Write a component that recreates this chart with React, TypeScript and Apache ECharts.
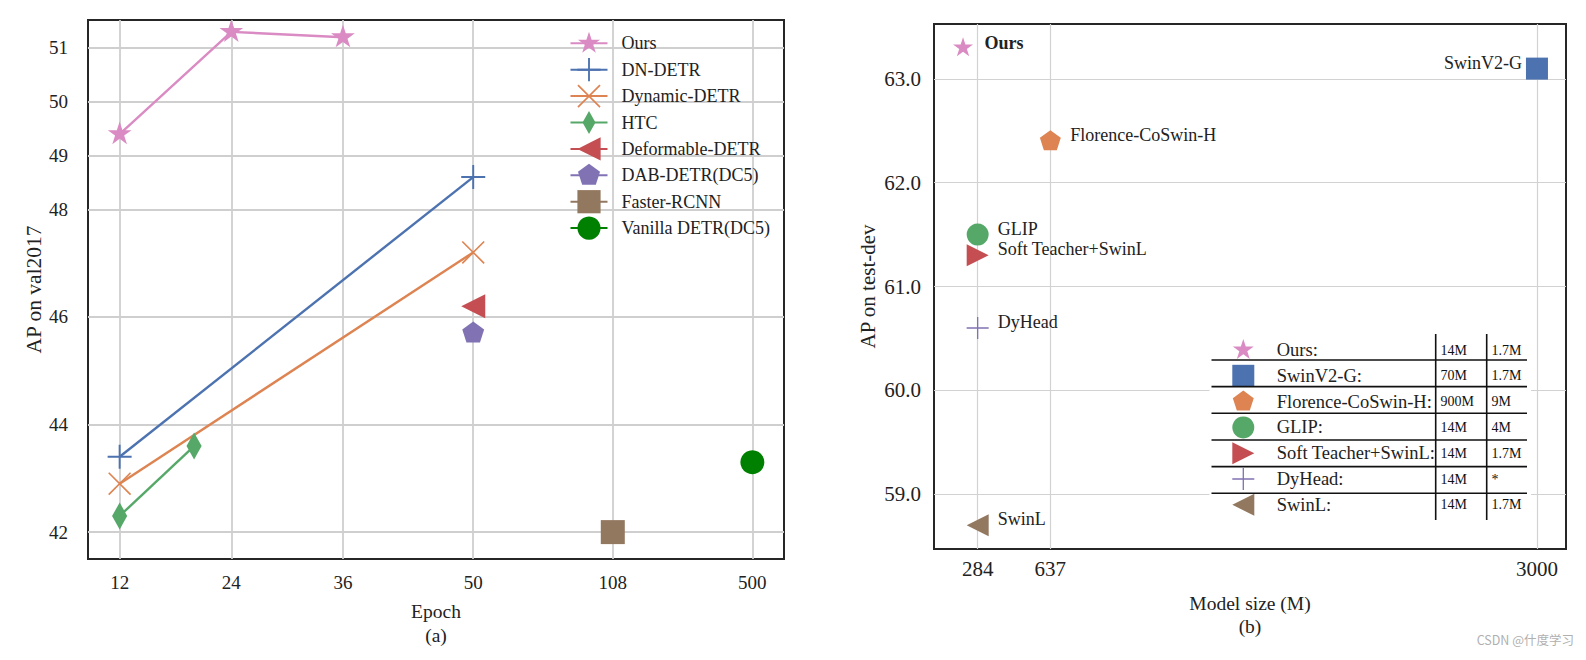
import React, { useEffect, useRef } from "react";
import * as echarts from "echarts";

// ---------- data: panel (a) ----------
const epochTickValues = [12, 24, 36, 50, 108, 500];
const epochTickPos = [12, 24, 36, 50, 65, 80]; // broken axis: positions used for 108 and 500
const apTicksA = [42, 44, 46, 48, 49, 50, 51];

const leftNames = [
  "Ours",
  "DN-DETR",
  "Dynamic-DETR",
  "HTC",
  "Deformable-DETR",
  "DAB-DETR(DC5)",
  "Faster-RCNN",
  "Vanilla DETR(DC5)",
];
const oursEpochs = [12, 24, 36];
const oursAP = [49.4, 51.3, 51.2];
const dnEpochs = [12, 50];
const dnAP = [43.4, 48.6];
const dynEpochs = [12, 50];
const dynAP = [42.9, 47.2];
const htcEpochs = [12, 20];
const htcAP = [42.3, 43.6];
const deformEpochs = [50];
const deformAP = [46.2];
const dabEpochs = [50];
const dabAP = [45.7];
const frcnnEpochs = [108];
const frcnnAP = [42.0];
const vanillaEpochs = [500];
const vanillaAP = [43.3];

// ---------- data: panel (b) ----------
const rightNames = [
  "Ours",
  "SwinV2-G",
  "Florence-CoSwin-H",
  "GLIP",
  "Soft Teacher+SwinL",
  "DyHead",
  "SwinL",
];
const rightModelSize = [213, 3000, 637, 284, 284, 284, 284];
const rightAP = [63.3, 63.1, 62.4, 61.5, 61.3, 60.6, 58.7];
const sizeTicks = [284, 637, 3000];
const apTicksB = [59, 60, 61, 62, 63];
const tableCol1 = ["14M", "70M", "900M", "14M", "14M", "14M", "14M"];
const tableCol2 = ["1.7M", "1.7M", "9M", "4M", "1.7M", "*", "1.7M"];

// ---------- styles ----------
const FONT = '"Liberation Serif", "Times New Roman", serif';
const TXT = "#222222";
const C = {
  pink: "#DA8BC3",
  blue: "#4C72B0",
  orange: "#DD8452",
  green: "#55A868",
  red: "#C44E52",
  purple: "#8172B3",
  brown: "#937860",
  darkgreen: "#008000",
};

const STAR =
  "path://M0,0M100,100M50,0L61.23,34.55L97.55,34.55L68.17,55.9L79.39,90.45L50,69.1L20.61,90.45L31.83,55.9L2.45,34.55L38.77,34.55Z";
const PLUS_THICK = "path://M46,0H54V100H46Z M0,46H100V54H0Z";
const PLUS = "path://M47,0H53V100H47Z M0,47H100V53H0Z";
const XMARK = "path://M0,5L5,0L100,95L95,100Z M95,0L100,5L5,100L0,95Z";
const THIN_DIAMOND = "path://M0,0M100,100M50,0L78,50L50,100L22,50Z";
const LEFT_TRI = "path://M0,50L100,0L100,100Z";
const RIGHT_TRI = "path://M100,50L0,0L0,100Z";
const PENTAGON =
  "path://M0,0M100,100M50,0L97.55,34.55L79.39,90.45L20.61,90.45L2.45,34.55Z";
const SQUARE = "path://M0,0H100V100H0Z";

function epochPos(e: number) {
  const i = epochTickValues.indexOf(e);
  return i >= 0 ? epochTickPos[i] : e;
}
function pairs(xs: number[], ys: number[], f = (v: number) => v) {
  return xs.map((x, i) => [f(x), ys[i]]);
}

const leftSeriesDefs = [
  { name: leftNames[0], xs: oursEpochs, ys: oursAP, color: C.pink, symbol: STAR, size: 25 },
  { name: leftNames[1], xs: dnEpochs, ys: dnAP, color: C.blue, symbol: PLUS_THICK, size: 24 },
  { name: leftNames[2], xs: dynEpochs, ys: dynAP, color: C.orange, symbol: XMARK, size: 23 },
  { name: leftNames[3], xs: htcEpochs, ys: htcAP, color: C.green, symbol: THIN_DIAMOND, size: 27 },
  { name: leftNames[4], xs: deformEpochs, ys: deformAP, color: C.red, symbol: LEFT_TRI, size: 24 },
  { name: leftNames[5], xs: dabEpochs, ys: dabAP, color: C.purple, symbol: PENTAGON, size: 23 },
  { name: leftNames[6], xs: frcnnEpochs, ys: frcnnAP, color: C.brown, symbol: SQUARE, size: 24 },
  { name: leftNames[7], xs: vanillaEpochs, ys: vanillaAP, color: C.darkgreen, symbol: "circle", size: 24 },
];

const rightColors = [C.pink, C.blue, C.orange, C.green, C.red, C.purple, C.brown];
const rightSymbols = [STAR, SQUARE, PENTAGON, "circle", RIGHT_TRI, PLUS, LEFT_TRI];
const rightSymbolSizes = [21, 22, 22, 22, 22, 22, 22];
const rightLabelSide = ["right", "left", "right", "right", "right", "right", "right"];

// layout of the inset table in panel (b)
const TBL_ROW0 = 350;
const TBL_ROW_H = 25.8;
const TBL_LINE0 = 360;
const TBL_LINE_H = 26.66;
const TBL_X0 = 1211.5;
const TBL_X1 = 1527;
const TBL_VX = [1435.7, 1486.7];
const TBL_COLX = [1440.5, 1491.5];

export default function App() {
  const ref = useRef<HTMLDivElement>(null);

  useEffect(() => {
    if (!ref.current) return;
    const chart = echarts.init(ref.current, undefined, { renderer: "svg" });

    const gridLineA = { show: true, lineStyle: { color: "#cfcfcf", width: 1.8 } };
    const gridLineB = { show: true, lineStyle: { color: "#d2d2d2", width: 1.2 } };

    const leftSeries = leftSeriesDefs.map((d) => ({
      type: "line",
      name: d.name,
      xAxisIndex: 0,
      yAxisIndex: 0,
      data: pairs(d.xs, d.ys, epochPos),
      symbol: d.symbol,
      symbolSize: d.size,
      symbolKeepAspect: true,
      showSymbol: true,
      color: d.color,
      lineStyle: { color: d.color, width: 2.4 },
      itemStyle: { color: d.color, borderWidth: 0 },
      emphasis: { disabled: true },
      z: 3,
    }));

    const rightSeries = rightNames.map((n, i) => ({
      type: "scatter",
      name: n,
      xAxisIndex: 1,
      yAxisIndex: 1,
      data: [[rightModelSize[i], rightAP[i]]],
      symbol: rightSymbols[i],
      symbolSize: rightSymbolSizes[i],
      symbolKeepAspect: true,
      color: rightColors[i],
      itemStyle: { color: rightColors[i], borderWidth: 0, opacity: 1 },
      emphasis: { disabled: true },
      label: {
        show: true,
        formatter: n,
        position: rightLabelSide[i],
        distance: i === 0 ? 11 : i === 1 ? 4 : 9,
        offset: [0, i === 0 ? -5 : -6],
        fontFamily: FONT,
        fontSize: 18,
        fontWeight: i === 0 ? "bold" : "normal",
        color: TXT,
      },
      z: 3,
    }));

    const tableGraphics: any[] = [
      {
        type: "rect",
        shape: { x: TBL_X0 - 2, y: 329, width: TBL_X1 - TBL_X0 + 6, height: 193 },
        style: { fill: "#ffffff" },
        z: 1,
        silent: true,
      },
    ];
    for (let k = 0; k < 6; k++) {
      const y = TBL_LINE0 + k * TBL_LINE_H;
      tableGraphics.push({
        type: "line",
        shape: { x1: TBL_X0, y1: y, x2: TBL_X1, y2: y },
        style: { stroke: "#111111", lineWidth: 1.6 },
        z: 5,
        silent: true,
      });
    }
    TBL_VX.forEach((x) =>
      tableGraphics.push({
        type: "line",
        shape: { x1: x, y1: 334, x2: x, y2: 520 },
        style: { stroke: "#111111", lineWidth: 1.6 },
        z: 5,
        silent: true,
      })
    );
    [tableCol1, tableCol2].forEach((col, ci) =>
      col.forEach((t, i) =>
        tableGraphics.push({
          type: "text",
          x: TBL_COLX[ci],
          y: TBL_ROW0 + i * TBL_ROW_H,
          style: {
            text: t,
            font: `14px ${FONT}`,
            fill: "#111111",
            align: "left",
            verticalAlign: "middle",
          },
          z: 5,
          silent: true,
        })
      )
    );
    tableGraphics.push({
      type: "text",
      right: 12,
      top: 633,
      style: {
        text: "CSDN @什度学习",
        font: '12.5px "Noto Sans CJK SC", "Noto Sans", sans-serif',
        fill: "#b0b0b0",
      },
      z: 5,
      silent: true,
    });

    const option: any = {
      animation: false,
      backgroundColor: "#ffffff",
      textStyle: { fontFamily: FONT },
      grid: [
        {
          left: 88,
          top: 20,
          width: 696,
          height: 539,
          show: true,
          borderColor: "#262626",
          borderWidth: 2,
          backgroundColor: "transparent",
        },
        {
          left: 934,
          top: 24,
          width: 632,
          height: 525,
          show: true,
          borderColor: "#262626",
          borderWidth: 2,
          backgroundColor: "transparent",
        },
      ],
      xAxis: [
        {
          type: "value",
          gridIndex: 0,
          min: 8.6,
          max: 83.4,
          axisLine: { show: false },
          axisTick: { show: false, customValues: epochTickPos },
          axisLabel: {
            customValues: epochTickPos,
            formatter: (v: number) => String(epochTickValues[epochTickPos.indexOf(v)] ?? ""),
            fontSize: 19,
            fontFamily: FONT,
            color: TXT,
            margin: 14,
          },
          splitLine: gridLineA,
          name: "Epoch\n(a)",
          nameLocation: "middle",
          nameGap: 40,
          nameTextStyle: { fontSize: 19.5, fontFamily: FONT, color: TXT, lineHeight: 24 },
        },
        {
          type: "value",
          gridIndex: 1,
          min: 72,
          max: 3141,
          axisLine: { show: false },
          axisTick: { show: false, customValues: sizeTicks },
          axisLabel: {
            customValues: sizeTicks,
            formatter: (v: number) => String(v),
            fontSize: 21,
            fontFamily: FONT,
            color: TXT,
            margin: 9,
          },
          splitLine: gridLineB,
          name: "Model size (M)\n(b)",
          nameLocation: "middle",
          nameGap: 43,
          nameTextStyle: { fontSize: 19.5, fontFamily: FONT, color: TXT, lineHeight: 23 },
        },
      ],
      yAxis: [
        {
          type: "value",
          gridIndex: 0,
          min: 41.5,
          max: 51.52,
          axisLine: { show: false },
          axisTick: { show: false, customValues: apTicksA },
          axisLabel: {
            customValues: apTicksA,
            fontSize: 19,
            fontFamily: FONT,
            color: TXT,
            margin: 20,
          },
          splitLine: gridLineA,
          name: "AP on val2017",
          nameLocation: "middle",
          nameGap: 34,
          nameTextStyle: { fontSize: 21.5, fontFamily: FONT, color: TXT },
        },
        {
          type: "value",
          gridIndex: 1,
          min: 58.47,
          max: 63.53,
          axisLine: { show: false },
          axisTick: { show: false, customValues: apTicksB },
          axisLabel: {
            customValues: apTicksB,
            formatter: (v: number) => v.toFixed(1),
            fontSize: 21,
            fontFamily: FONT,
            color: TXT,
            margin: 13,
          },
          splitLine: gridLineB,
          name: "AP on test-dev",
          nameLocation: "middle",
          nameGap: 56,
          nameTextStyle: { fontSize: 21, fontFamily: FONT, color: TXT },
        },
      ],
      legend: [
        {
          data: leftNames,
          orient: "vertical",
          left: 569.5,
          top: 31.7,
          padding: 0,
          itemWidth: 37,
          itemHeight: 29,
          itemGap: 3.2,
          selectedMode: false,
          textStyle: { fontSize: 18, fontFamily: FONT, color: TXT, padding: [0, 0, 0, 9] },
        },
        {
          data: rightNames.map((n, i) => ({ name: n, icon: rightSymbols[i] })),
          orient: "vertical",
          left: 1232.3,
          top: 339,
          padding: 0,
          itemWidth: 56.8,
          itemHeight: 22,
          itemGap: 3.8,
          selectedMode: false,
          formatter: (n: string) => n + ":",
          textStyle: { fontSize: 18.5, fontFamily: FONT, color: TXT },
        },
      ],
      graphic: tableGraphics,
      series: [...leftSeries, ...rightSeries],
    };

    chart.setOption(option);
    return () => chart.dispose();
  }, []);

  return (
    <div
      ref={ref}
      style={{ position: "fixed", left: 0, top: 0, width: 1586, height: 660, background: "#fff" }}
    />
  );
}
